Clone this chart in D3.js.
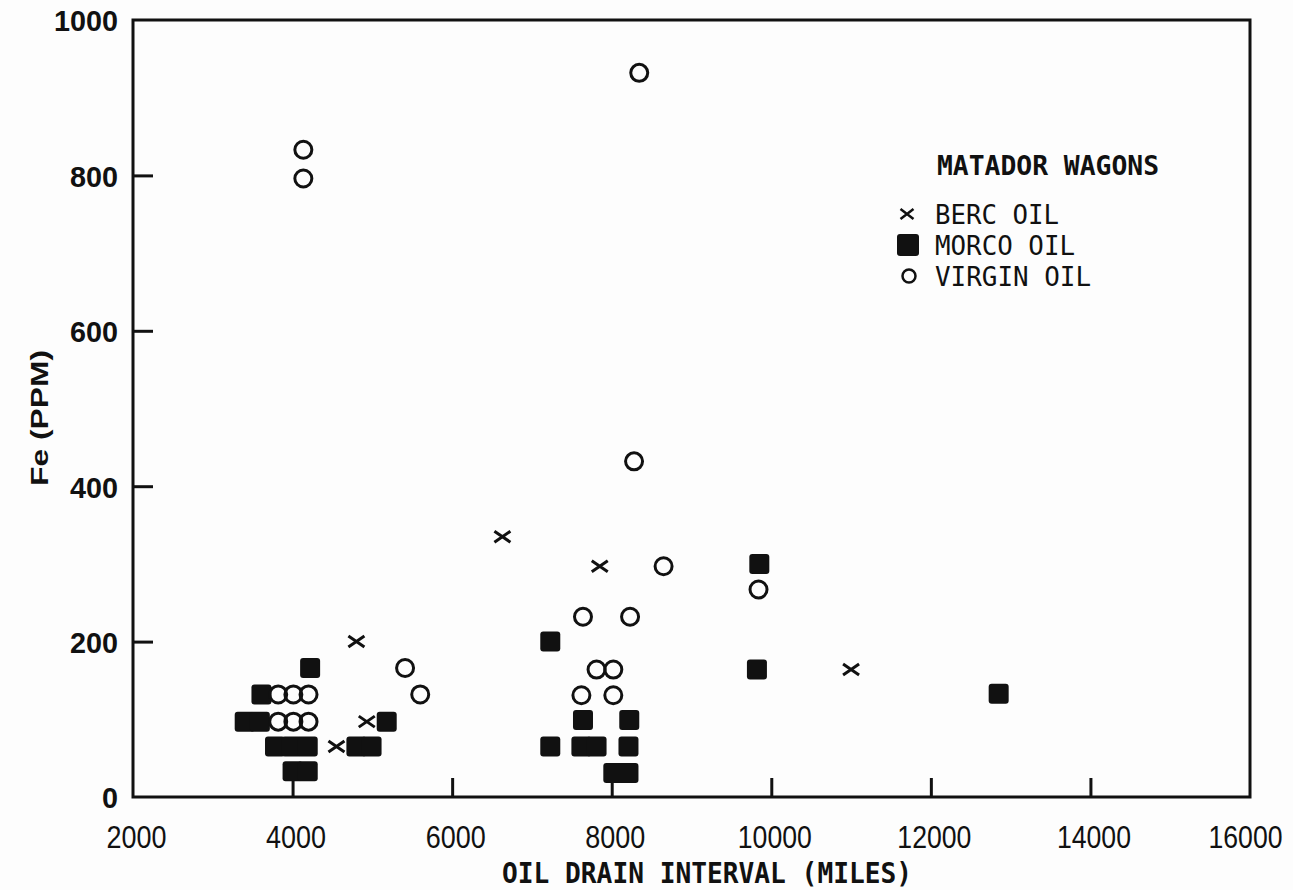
<!DOCTYPE html>
<html><head><meta charset="utf-8">
<script src="https://cdn.jsdelivr.net/npm/d3@7"></script>
<style>body{margin:0;background:#fff}</style>
</head><body>
<svg id="c" width="1293" height="890"></svg>
<script>
// ---- data ----
const xTickValues = [2000, 4000, 6000, 8000, 10000, 12000, 14000, 16000];
const yTickValues = [0, 200, 400, 600, 800, 1000];
const seriesNames = ["BERC OIL", "MORCO OIL", "VIRGIN OIL"];
const legendTitle = "MATADOR WAGONS";
const xTitle = "OIL DRAIN INTERVAL (MILES)";
const yTitle = "Fe (PPM)";

const bercX = [4550, 4800, 4930, 6630, 7850, 11000];
const bercY = [65, 200, 97, 335, 297, 164];

const morcoX = [3400, 3590, 3610, 3780, 3990, 4190, 4000, 4190, 4220, 4800, 4990, 5180,
                7230, 7230, 7620, 7640, 7810, 8210, 8220, 8020, 8210, 9850, 9820, 12850];
const morcoY = [97, 97, 132, 65, 65, 65, 33, 33, 166, 65, 65, 97,
                200, 65, 65, 99, 65, 65, 99, 31, 31, 300, 164, 133];

const virginX = [4135, 4135, 8345, 3820, 4010, 4200, 3820, 4010, 4200, 5410, 5600,
                 7640, 8230, 7810, 8020, 7620, 8020, 8280, 8650, 9840];
const virginY = [833, 796, 932, 132, 132, 132, 97, 97, 97, 166, 132,
                 232, 232, 164, 164, 131, 131, 432, 297, 267];

// ---- layout ----
const svg = d3.select("#c");
const L = 133, R = 1250, T = 20, B = 797;
const x = d3.scaleLinear().domain([2000, 16000]).range([L, R]);
const y = d3.scaleLinear().domain([0, 1000]).range([B, T]);
const ink = "#111";
const fmt = d3.format("d");

svg.append("rect").attr("width", 1293).attr("height", 890).attr("fill", "#fdfdfd");

// frame
svg.append("rect").attr("x", L).attr("y", T).attr("width", R - L).attr("height", B - T)
  .attr("fill", "none").attr("stroke", ink).attr("stroke-width", 3);

// x axis
const gx = svg.append("g").attr("transform", `translate(0,${B})`)
  .call(d3.axisBottom(x).tickValues(xTickValues).tickFormat(fmt)
    .tickSizeInner(-19).tickSizeOuter(0).tickPadding(0));
gx.select(".domain").remove();
gx.selectAll(".tick line").attr("stroke", ink).attr("stroke-width", 3)
  .attr("display", d => (d === 2000 || d === 16000) ? "none" : null);
gx.selectAll(".tick text")
  .attr("y", 51).attr("dy", null)
  .attr("x", d => d === 16000 ? 32 : 3)
  .attr("text-anchor", d => d === 16000 ? "end" : "middle")
  .attr("font-family", "'Liberation Sans', Arial, sans-serif")
  .attr("font-size", 32).attr("fill", ink)
  .attr("textLength", d => d >= 10000 ? 74 : 60)
  .attr("lengthAdjust", "spacingAndGlyphs");

// y axis
const gy = svg.append("g").attr("transform", `translate(${L},0)`)
  .call(d3.axisLeft(y).tickValues(yTickValues).tickFormat(fmt)
    .tickSizeInner(-20).tickSizeOuter(0).tickPadding(0));
gy.select(".domain").remove();
gy.selectAll(".tick line").attr("stroke", ink).attr("stroke-width", 3)
  .attr("display", d => (d === 0 || d === 1000) ? "none" : null);
gy.selectAll(".tick text")
  .attr("x", -15).attr("dy", "0.36em")
  .attr("font-family", "'Liberation Sans', Arial, sans-serif")
  .attr("font-weight", "bold").attr("font-size", 30).attr("fill", ink)
  .attr("textLength", d => String(d).length * 16)
  .attr("lengthAdjust", "spacingAndGlyphs");

// axis titles
svg.append("text").attr("x", 707).attr("y", 883).attr("text-anchor", "middle")
  .attr("font-family", "'DejaVu Sans Mono', monospace").attr("font-weight", "bold")
  .attr("font-size", 28).attr("fill", ink)
  .attr("textLength", 410).attr("lengthAdjust", "spacingAndGlyphs").text(xTitle);

svg.append("text").attr("transform", "translate(48,418) rotate(-90)").attr("text-anchor", "middle")
  .attr("font-family", "'Liberation Sans', Arial, sans-serif").attr("font-weight", "bold")
  .attr("font-size", 24).attr("fill", ink)
  .attr("textLength", 136).attr("lengthAdjust", "spacingAndGlyphs").text(yTitle);

// markers
const sq = 20;
const morco = morcoX.map((v, i) => [v, morcoY[i]]);
const virgin = virginX.map((v, i) => [v, virginY[i]]);
const berc = bercX.map((v, i) => [v, bercY[i]]);

svg.append("g").selectAll("rect").data(morco).join("rect")
  .attr("x", d => x(d[0]) - sq / 2).attr("y", d => y(d[1]) - sq / 2)
  .attr("width", sq).attr("height", sq).attr("rx", 3).attr("fill", ink);

svg.append("g").selectAll("circle").data(virgin).join("circle")
  .attr("cx", d => x(d[0])).attr("cy", d => y(d[1])).attr("r", 8.5)
  .attr("fill", "none").attr("stroke", ink).attr("stroke-width", 3);

const xPath = (w, h) => `M${-w/2},${-h/2}L${w/2},${h/2}M${-w/2},${h/2}L${w/2},${-h/2}`;
svg.append("g").selectAll("path").data(berc).join("path")
  .attr("transform", d => `translate(${x(d[0])},${y(d[1])})`)
  .attr("d", xPath(16, 11)).attr("fill", "none").attr("stroke", ink).attr("stroke-width", 3);

// legend
const lg = svg.append("g");
const monoFont = "'DejaVu Sans Mono', monospace";
lg.append("text").attr("x", 937).attr("y", 175)
  .attr("font-family", monoFont).attr("font-weight", "bold").attr("font-size", 27)
  .attr("fill", ink).attr("textLength", 222).attr("lengthAdjust", "spacingAndGlyphs").text(legendTitle);
const rowY = [214, 245, 276];
const rowLen = [124, 140, 156];
seriesNames.forEach((name, i) => {
  lg.append("text").attr("x", 935).attr("y", rowY[i] + 10)
    .attr("font-family", monoFont).attr("font-size", 27).attr("fill", ink)
    .attr("textLength", rowLen[i]).attr("lengthAdjust", "spacingAndGlyphs").text(name);
});
lg.append("path").attr("transform", `translate(907,${rowY[0]})`).attr("d", xPath(13, 10))
  .attr("stroke", ink).attr("stroke-width", 2.5).attr("fill", "none");
lg.append("rect").attr("x", 897).attr("y", rowY[1] - 11).attr("width", 22).attr("height", 22)
  .attr("rx", 3).attr("fill", ink);
lg.append("circle").attr("cx", 909).attr("cy", rowY[2]).attr("r", 6.5)
  .attr("fill", "none").attr("stroke", ink).attr("stroke-width", 2.5);
</script>
</body></html>
